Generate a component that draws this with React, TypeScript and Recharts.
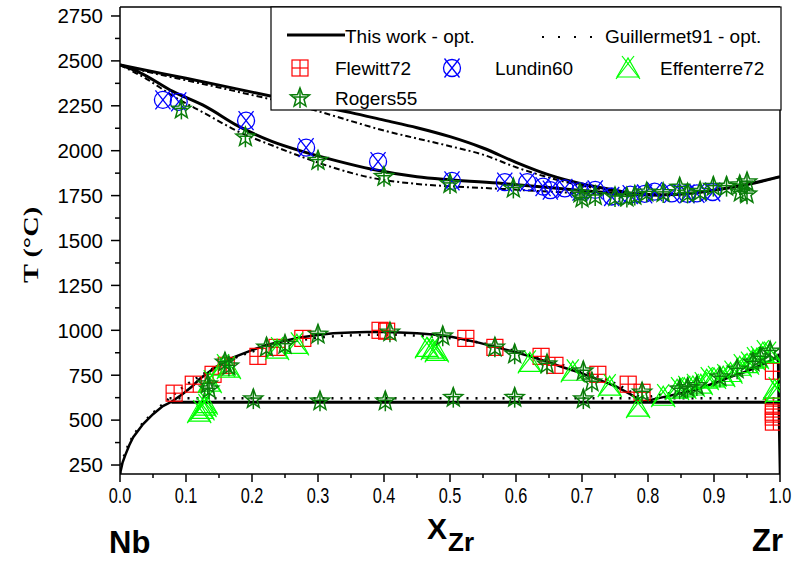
import React from 'react';
import {
  ComposedChart,
  Line,
  Scatter,
  XAxis,
  YAxis,
  ReferenceLine,
} from 'recharts';

type Pt = [number, number];

// ---- This work - optimised (solid lines) ----
const workLiquidus: Pt[] = [
  [0, 2477], [0.05, 2440], [0.1, 2403], [0.15, 2365], [0.2, 2326], [0.25, 2288],
  [0.3, 2250], [0.35, 2212], [0.4, 2170], [0.45, 2128], [0.5, 2078], [0.55, 2015],
  [0.6, 1935], [0.65, 1865], [0.7, 1815], [0.75, 1780], [0.78, 1760], [0.82, 1754],
  [0.86, 1762], [0.9, 1780], [0.95, 1812], [1.0, 1855],
];
const workSolidus: Pt[] = [
  [0, 2477], [0.03, 2435], [0.08, 2330], [0.13, 2245], [0.18, 2135], [0.23, 2052],
  [0.28, 1992], [0.33, 1942], [0.38, 1898], [0.45, 1855], [0.5, 1838], [0.58, 1817],
  [0.65, 1795], [0.72, 1772], [0.78, 1756], [0.82, 1754],
];
const workGap: Pt[] = [
  [0, 200], [0.004, 265], [0.008, 305], [0.014, 360], [0.02, 405], [0.035, 478],
  [0.05, 533], [0.065, 578], [0.078, 602], [0.095, 645], [0.11, 690], [0.121, 730],
  [0.145, 795], [0.171, 848], [0.2, 890], [0.222, 918], [0.25, 942], [0.273, 960],
  [0.3, 974], [0.323, 983], [0.35, 988], [0.374, 990], [0.4, 990], [0.424, 988],
  [0.45, 984], [0.474, 977], [0.5, 965], [0.52, 950], [0.545, 930], [0.571, 905],
  [0.6, 878], [0.621, 855], [0.65, 822], [0.671, 794], [0.7, 760], [0.723, 728],
  [0.75, 690], [0.773, 645], [0.792, 602],
];
const workZrSide: Pt[] = [
  [0.792, 602], [0.823, 628], [0.85, 650], [0.874, 672], [0.9, 705], [0.924, 739],
  [0.95, 772], [0.974, 811], [0.99, 840], [0.997, 860], [0.998, 600], [1.0, 200],
];
const workMonotectoid: Pt[] = [[0.078, 600], [0.998, 600]];

// ---- Guillermet91 - optimised ----
const guilLiquidus: Pt[] = [
  [0, 2477], [0.05, 2432], [0.1, 2392], [0.15, 2352], [0.2, 2310], [0.25, 2268],
  [0.3, 2220], [0.35, 2165], [0.4, 2112], [0.45, 2068], [0.5, 2025], [0.55, 1978],
  [0.6, 1908], [0.65, 1850], [0.7, 1805], [0.75, 1775], [0.8, 1754], [0.86, 1760],
  [0.9, 1779], [0.95, 1811], [1.0, 1855],
];
const guilSolidus: Pt[] = [
  [0, 2477], [0.04, 2400], [0.08, 2305], [0.13, 2205], [0.18, 2105], [0.23, 2030],
  [0.28, 1960], [0.33, 1898], [0.38, 1850], [0.45, 1815], [0.5, 1802], [0.58, 1787],
  [0.65, 1772], [0.72, 1760], [0.78, 1752], [0.82, 1753],
];
const guilGap: Pt[] = [
  [0, 200], [0.003, 265], [0.007, 310], [0.013, 365], [0.02, 412], [0.035, 485],
  [0.05, 540], [0.065, 590], [0.075, 622], [0.1, 695], [0.13, 765], [0.17, 840],
  [0.22, 903], [0.27, 943], [0.33, 968], [0.4, 976], [0.45, 970], [0.5, 956],
  [0.55, 928], [0.6, 884], [0.65, 830], [0.7, 772], [0.75, 705], [0.79, 622],
];
const guilZrSide: Pt[] = [
  [0.79, 622], [0.85, 662], [0.9, 712], [0.95, 782], [0.99, 848], [0.997, 866],
];
const guilMonotectoid: Pt[] = [[0.075, 622], [0.997, 622]];

// ---- experimental data ----
const flewitt72: Pt[] = [
  [0.082, 650], [0.111, 700], [0.141, 755], [0.161, 805], [0.209, 855], [0.238, 905],
  [0.277, 955], [0.394, 1000], [0.404, 995], [0.524, 955], [0.568, 905], [0.638, 855],
  [0.659, 805], [0.724, 755], [0.77, 700], [0.791, 655], [0.99, 772], [0.99, 578],
  [0.99, 544], [0.99, 517], [0.99, 489],
];
const lundin60: Pt[] = [
  [0.065, 2283], [0.089, 2272], [0.191, 2167], [0.282, 2017], [0.391, 1939],
  [0.503, 1832], [0.583, 1825], [0.617, 1825], [0.641, 1800], [0.652, 1780],
  [0.674, 1790], [0.697, 1775], [0.72, 1782], [0.745, 1745], [0.773, 1755],
  [0.795, 1760], [0.81, 1772], [0.836, 1762], [0.859, 1760], [0.874, 1762], [0.898, 1770],
];
const effenterre72: Pt[] = [
  [0.12, 545], [0.125, 560], [0.128, 578], [0.13, 592], [0.136, 711], [0.156, 800],
  [0.165, 790], [0.238, 895], [0.268, 922], [0.465, 905], [0.474, 895], [0.48, 883],
  [0.621, 822], [0.686, 772], [0.742, 689], [0.785, 572], [0.823, 633], [0.844, 672],
  [0.855, 680], [0.868, 690], [0.88, 700], [0.889, 728], [0.9, 735], [0.914, 745],
  [0.925, 765], [0.939, 800], [0.95, 815], [0.959, 839], [0.965, 845], [0.974, 878],
  [0.985, 870], [0.992, 672], [0.995, 655],
];
const rogers55: Pt[] = [
  [0.093, 2230], [0.19, 2075], [0.3, 1945], [0.4, 1855], [0.5, 1815], [0.596, 1790],
  [0.697, 1762], [0.7, 1735], [0.72, 1748], [0.75, 1742], [0.768, 1740], [0.78, 1750],
  [0.798, 1768], [0.823, 1765], [0.848, 1795], [0.86, 1762], [0.879, 1772],
  [0.899, 1800], [0.919, 1800], [0.939, 1808], [0.95, 1825], [0.95, 1758], [0.94, 1768],
  [0.133, 700], [0.135, 672], [0.159, 822], [0.165, 800], [0.222, 905], [0.25, 920],
  [0.3, 977], [0.409, 989], [0.489, 967], [0.568, 905], [0.598, 867], [0.647, 811],
  [0.702, 772], [0.715, 711], [0.791, 655], [0.848, 672], [0.874, 690], [0.909, 739],
  [0.935, 783], [0.959, 822], [0.97, 850], [0.985, 883], [0.86, 680],
  [0.202, 617], [0.303, 605], [0.402, 605], [0.505, 625], [0.598, 625], [0.702, 617],
];

const xTicks = [
  0, 0.05, 0.1, 0.15, 0.2, 0.25, 0.3, 0.35, 0.4, 0.45, 0.5,
  0.55, 0.6, 0.65, 0.7, 0.75, 0.8, 0.85, 0.9, 0.95, 1,
];
const yTicks = [
  250, 375, 500, 625, 750, 875, 1000, 1125, 1250, 1375, 1500, 1625,
  1750, 1875, 2000, 2125, 2250, 2375, 2500, 2625, 2750,
];

const RED = '#ff0000';
const BLUE = '#0000ff';
const LIME = '#00ff00';
const GREEN = '#0a7d0a';
const SANS = '"Liberation Sans", Arial, sans-serif';

const toData = (pts: Pt[]) => pts.map(([x, t]) => ({ x, t }));

const FlewittMark = ({ cx, cy }: { cx: number; cy: number }) => (
  <g stroke={RED} strokeWidth={1.2} fill="none">
    <rect x={cx - 8} y={cy - 8} width={16} height={16} />
    <line x1={cx - 8} y1={cy} x2={cx + 8} y2={cy} />
    <line x1={cx} y1={cy - 8} x2={cx} y2={cy + 8} />
  </g>
);

const LundinMark = ({ cx, cy }: { cx: number; cy: number }) => (
  <g stroke={BLUE} strokeWidth={1.3} fill="none">
    <circle cx={cx} cy={cy} r={8.5} />
    <line x1={cx - 7.5} y1={cy - 9.5} x2={cx + 7.5} y2={cy + 9.5} />
    <line x1={cx + 7.5} y1={cy - 9.5} x2={cx - 7.5} y2={cy + 9.5} />
  </g>
);

const EffenterreMark = ({ cx, cy }: { cx: number; cy: number }) => (
  <g stroke={LIME} strokeWidth={1.2} fill="none">
    <polygon points={`${cx},${cy - 10} ${cx - 11},${cy + 9} ${cx + 11},${cy + 9}`} />
    <line x1={cx - 6} y1={cy - 12} x2={cx + 12} y2={cy + 11} />
    <line x1={cx + 6} y1={cy - 12} x2={cx - 12} y2={cy + 11} />
  </g>
);

const starPoints = (cx: number, cy: number, ro: number, ri: number) => {
  const pts: string[] = [];
  for (let i = 0; i < 10; i++) {
    const r = i % 2 === 0 ? ro : ri;
    const a = -Math.PI / 2 + (i * Math.PI) / 5;
    pts.push(`${cx + r * Math.cos(a)},${cy + r * Math.sin(a)}`);
  }
  return pts.join(' ');
};

const RogersMark = ({ cx, cy }: { cx: number; cy: number }) => (
  <g stroke={GREEN} strokeWidth={1.5} fill="none">
    <polygon points={starPoints(cx, cy, 10, 4.2)} />
    <line x1={cx} y1={cy - 10} x2={cx} y2={cy + 10} />
    <line x1={cx - 6} y1={cy - 1} x2={cx + 6} y2={cy - 1} />
  </g>
);

const YTick = (props: any) => {
  const { x, y, payload } = props;
  const v = payload.value as number;
  const major = v % 250 === 0;
  return (
    <g>
      <line x1={x} y1={y} x2={x - (major ? 9 : 5)} y2={y} stroke="#000" strokeWidth={1.5} />
      {major && (
        <text x={x - 17} y={y} dy="0.36em" textAnchor="end" fontSize={20.5} fontFamily={SANS} fill="#000">
          {v}
        </text>
      )}
    </g>
  );
};

const XTick = (props: any) => {
  const { x, y, payload } = props;
  const v = payload.value as number;
  const major = Math.round(v * 100) % 10 === 0;
  return (
    <g>
      <line x1={x} y1={y} x2={x} y2={y + (major ? 8 : 4)} stroke="#000" strokeWidth={1.5} />
      {major && (
        <text
          transform={`translate(${x},${y + 29}) scale(0.74,1)`}
          textAnchor="middle"
          fontSize={22}
          fontFamily={SANS}
          fill="#000"
        >
          {v.toFixed(1)}
        </text>
      )}
    </g>
  );
};

const solid = { stroke: '#000', strokeWidth: 3, dot: false, activeDot: false, isAnimationActive: false } as const;

export default function App() {
  return (
    <div style={{ position: 'absolute', left: 0, top: 0, width: 798, height: 562, background: '#fff' }}>
      <ComposedChart width={798} height={562} margin={{ top: 7, right: 18, bottom: 58, left: 60 }}>
        <XAxis
          type="number"
          dataKey="x"
          domain={[0, 1]}
          ticks={xTicks}
          interval={0}
          allowDataOverflow
          height={30}
          tickSize={0}
          tickMargin={0}
          tick={<XTick />}
          axisLine={{ stroke: '#000', strokeWidth: 1.5 }}
          tickLine={false}
        />
        <YAxis
          type="number"
          dataKey="t"
          domain={[200, 2800]}
          ticks={yTicks}
          interval={0}
          allowDataOverflow
          width={60}
          tickSize={0}
          tickMargin={0}
          tick={<YTick />}
          axisLine={{ stroke: '#000', strokeWidth: 1.5 }}
          tickLine={false}
        />
        <ReferenceLine y={2800} stroke="#000" strokeWidth={1.5} ifOverflow="visible" />
        <ReferenceLine x={1} stroke="#000" strokeWidth={1.5} ifOverflow="visible" />

        <Scatter name="Flewitt72" data={toData(flewitt72)} isAnimationActive={false}
          shape={(p: any) => <FlewittMark cx={p.cx} cy={p.cy} />} />
        <Scatter name="Lundin60" data={toData(lundin60)} isAnimationActive={false}
          shape={(p: any) => <LundinMark cx={p.cx} cy={p.cy} />} />
        <Scatter name="Effenterre72" data={toData(effenterre72)} isAnimationActive={false}
          shape={(p: any) => <EffenterreMark cx={p.cx} cy={p.cy} />} />
        <Scatter name="Rogers55" data={toData(rogers55)} isAnimationActive={false}
          shape={(p: any) => <RogersMark cx={p.cx} cy={p.cy} />} />

        <Line data={toData(guilLiquidus)} dataKey="t" type="monotone" stroke="#000" strokeWidth={2}
          strokeDasharray="6 3 2 3" dot={false} activeDot={false} isAnimationActive={false} />
        <Line data={toData(guilSolidus)} dataKey="t" type="monotone" stroke="#000" strokeWidth={2}
          strokeDasharray="6 3 2 3" dot={false} activeDot={false} isAnimationActive={false} />
        <Line data={toData(guilGap)} dataKey="t" type="monotone" stroke="#000" strokeWidth={2.5}
          strokeDasharray="2 7" dot={false} activeDot={false} isAnimationActive={false} />
        <Line data={toData(guilZrSide)} dataKey="t" type="linear" stroke="#000" strokeWidth={2.5}
          strokeDasharray="2 7" dot={false} activeDot={false} isAnimationActive={false} />
        <Line data={toData(guilMonotectoid)} dataKey="t" type="linear" stroke="#000" strokeWidth={2.5}
          strokeDasharray="2 7" dot={false} activeDot={false} isAnimationActive={false} />

        <Line data={toData(workLiquidus)} dataKey="t" type="monotone" {...solid} />
        <Line data={toData(workSolidus)} dataKey="t" type="monotone" {...solid} />
        <Line data={toData(workGap)} dataKey="t" type="linear" {...solid} strokeWidth={2.5} />
        <Line data={toData(workZrSide)} dataKey="t" type="linear" {...solid} strokeWidth={2.5} />
        <Line data={toData(workMonotectoid)} dataKey="t" type="linear" {...solid} />
      </ComposedChart>

      <svg width={798} height={562} style={{ position: 'absolute', left: 0, top: 0, pointerEvents: 'none' }}>
        <rect x={271} y={7} width={510} height={103} fill="#fff" stroke="#000" strokeWidth={1.2} />
        <line x1={287} y1={35} x2={345} y2={35} stroke="#000" strokeWidth={3} />
        <text x={345} y={43} fontSize={19} fontFamily={SANS}>This work - opt.</text>
        <line x1={542} y1={37} x2={592} y2={37} stroke="#000" strokeWidth={2} strokeDasharray="2 14" />
        <text x={605} y={43} fontSize={19} fontFamily={SANS}>Guillermet91 - opt.</text>
        <FlewittMark cx={300} cy={68} />
        <text x={335} y={75} fontSize={19} fontFamily={SANS}>Flewitt72</text>
        <LundinMark cx={452} cy={68} />
        <text x={495} y={75} fontSize={19} fontFamily={SANS}>Lundin60</text>
        <EffenterreMark cx={628} cy={68} />
        <text x={660} y={75} fontSize={19} fontFamily={SANS}>Effenterre72</text>
        <RogersMark cx={300} cy={98} />
        <text x={335} y={105} fontSize={19} fontFamily={SANS}>Rogers55</text>

        <text
          transform="translate(38,245) rotate(-90) scale(1.35,1)"
          textAnchor="middle"
          fontSize={21}
          fontWeight="bold"
          fontFamily='"Liberation Serif", "Times New Roman", serif'
        >
          T (°C)
        </text>
        <text x={427} y={539} fontSize={30} fontWeight="bold" fontFamily={SANS}>X</text>
        <text x={448} y={551} fontSize={26} fontWeight="bold" fontFamily={SANS}>Zr</text>
        <text x={109} y={553} fontSize={31} fontWeight="bold" fontFamily={SANS}>Nb</text>
        <text x={752} y={551} fontSize={31} fontWeight="bold" fontFamily={SANS}>Zr</text>
      </svg>
    </div>
  );
}
